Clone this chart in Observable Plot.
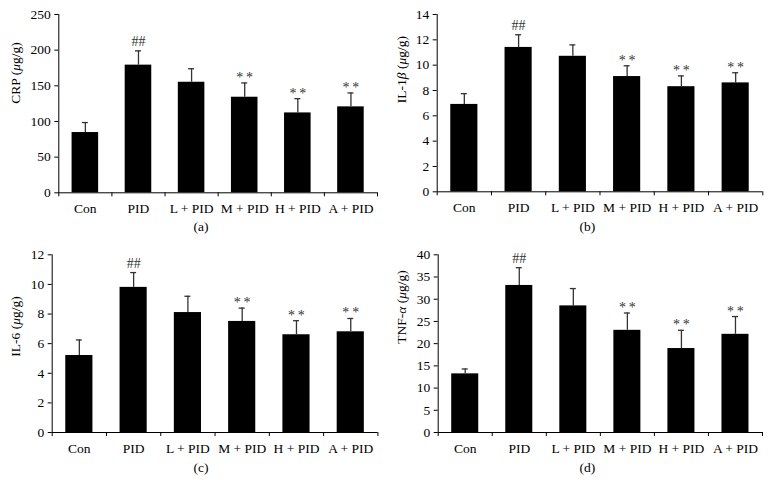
<!DOCTYPE html>
<html>
<head>
<meta charset="utf-8">
<script src="https://cdn.jsdelivr.net/npm/d3@7"></script>
<script src="https://cdn.jsdelivr.net/npm/@observablehq/plot@0.6"></script>
<style>
  html, body { margin: 0; padding: 0; background: white; }
  #wrap { position: relative; width: 772px; height: 498px; background: white; }
  #wrap > svg { position: absolute; }
  #wrap svg g[aria-label*="axis"] { font-size: 13.5px; }
</style>
</head>
<body>
<div id="wrap"></div>
<script>
// ---- data ----
const categories = ["Con", "PID", "L + PID", "M + PID", "H + PID", "A + PID"];
const significance = ["", "##", "", "*\u2009*", "*\u2009*", "*\u2009*"];

const crpMean = [84.5, 179, 155, 134, 112, 120.5];
const crpErr  = [14, 20, 19, 20, 20, 19.5];
const crpTicks = [0, 50, 100, 150, 200, 250];

const il1bMean = [6.9, 11.4, 10.7, 9.1, 8.3, 8.6];
const il1bErr  = [0.85, 1.0, 0.9, 0.85, 0.85, 0.8];
const il1bTicks = [0, 2, 4, 6, 8, 10, 12, 14];

const il6Mean = [5.2, 9.8, 8.1, 7.5, 6.6, 6.8];
const il6Err  = [1.05, 1.0, 1.1, 0.9, 0.95, 0.9];
const il6Ticks = [0, 2, 4, 6, 8, 10, 12];

const tnfMean = [13.2, 33.1, 28.5, 23.0, 18.9, 22.1];
const tnfErr  = [1.1, 4.0, 3.9, 3.9, 4.1, 4.0];
const tnfTicks = [0, 5, 10, 15, 20, 25, 30, 35, 40];

const panelLabels = ["CRP (μg/g)", "IL-1β (μg/g)", "IL-6 (μg/g)", "TNF-α (μg/g)"];
const panelCaptions = ["(a)", "(b)", "(c)", "(d)"];

// ---- drawing ----
const W = 386, H = 249;
const wrap = document.getElementById("wrap");

function italicize(svg, label) {
  svg.querySelectorAll("text").forEach(t => {
    if (t.textContent === label) {
      const parts = label.split(/([μβα])/);
      t.textContent = "";
      parts.forEach(p => {
        if (!p) return;
        const ts = document.createElementNS("http://www.w3.org/2000/svg", "tspan");
        ts.textContent = p;
        if (/[μβα]/.test(p)) ts.setAttribute("font-style", "italic");
        t.appendChild(ts);
      });
    }
  });
}

function panel(means, errs, ticks, label, caption, layout) {
  const rows = categories.map((c, i) => ({cat: c, mean: means[i], err: errs[i], sig: significance[i]}));
  const ymax = ticks[ticks.length - 1];
  const {left, top, mL, mR, mT, mB, labelDy, capDy} = layout;
  const step = (W - mL - mR) / categories.length;
  const bw = step * 0.5;
  const capW = 6;
  const svg = Plot.plot({
    width: W, height: H,
    marginLeft: mL, marginRight: mR, marginTop: mT, marginBottom: mB,
    style: {fontFamily: "'Liberation Serif', 'Times New Roman', serif", fontSize: "13.5px", background: "white", color: "black", overflow: "visible"},
    x: {domain: categories, paddingInner: 0.5, paddingOuter: 0.25, round: false, tickSize: 0, tickPadding: 11, label: null},
    y: {domain: [0, ymax], ticks: ticks, tickSize: 4, tickPadding: 4, label: null},
    marks: [
      Plot.barY(rows, {x: "cat", y: "mean", fill: "black"}),
      Plot.ruleX(rows, {x: "cat", y1: "mean", y2: d => d.mean + d.err, stroke: "#333", strokeWidth: 1.3}),
      Plot.tickY(rows, {x: "cat", y: d => d.mean + d.err, stroke: "#333", strokeWidth: 1.3, inset: (bw - capW) / 2}),
      Plot.ruleY([0], {stroke: "black"}),
      Plot.ruleX([categories[0]], {dx: -step / 2, y1: 0, y2: ymax, stroke: "black"}),
      Plot.ruleX(categories, {x: d => d, y1: 0, y2: 0, dx: -step / 2, insetBottom: -4, stroke: "black"}),
      Plot.ruleX([categories[categories.length - 1]], {x: d => d, y1: 0, y2: 0, dx: step / 2, insetBottom: -4, stroke: "black"}),
      Plot.text(rows, {filter: d => d.sig === "##", x: "cat", y: d => d.mean + d.err, text: "sig", lineAnchor: "bottom", dy: -5, fill: "#333", fontSize: 14}),
      Plot.text(rows, {filter: d => d.sig !== "" && d.sig !== "##", x: "cat", y: d => d.mean + d.err, text: "sig", lineAnchor: "bottom", dy: -1, fill: "#333", fontSize: 14}),
      Plot.text([label], {frameAnchor: "left", rotate: -90, dx: 15 - mL, dy: labelDy, text: d => d, fontSize: 13.5, fill: "black"}),
      Plot.text([caption], {frameAnchor: "bottom-left", dx: 193 - mL, dy: capDy, text: d => d, fontSize: 13.5, fill: "black"})
    ]
  });
  italicize(svg, label);
  svg.style.left = left + "px";
  svg.style.top = top + "px";
  wrap.appendChild(svg);
}

panel(crpMean, crpErr, crpTicks, panelLabels[0], panelCaptions[0],
  {left: 0, top: 0, mL: 58.3, mR: 9, mT: 14, mB: 56.7, labelDy: 0, capDy: 38});
panel(il1bMean, il1bErr, il1bTicks, panelLabels[1], panelCaptions[1],
  {left: 386, top: 0, mL: 50.7, mR: 9.7, mT: 14, mB: 57.7, labelDy: 0, capDy: 39});
panel(il6Mean, il6Err, il6Ticks, panelLabels[2], panelCaptions[2],
  {left: 0, top: 249, mL: 51.7, mR: 8.6, mT: 5.3, mB: 66, labelDy: 13, capDy: 39.7});
panel(tnfMean, tnfErr, tnfTicks, panelLabels[3], panelCaptions[3],
  {left: 386, top: 249, mL: 51.7, mR: 10, mT: 5.3, mB: 66, labelDy: 0, capDy: 39.7});
</script>
</body>
</html>
